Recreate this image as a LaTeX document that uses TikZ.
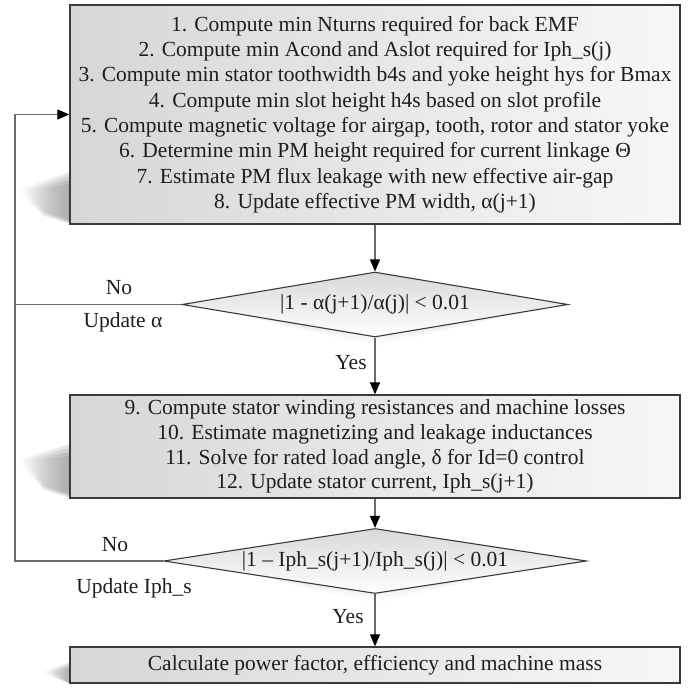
\documentclass[tikz,border=0pt]{standalone}
\usepackage{fontspec}
\setmainfont{Liberation Serif}
\usetikzlibrary{shapes.geometric,arrows.meta,fadings}

\definecolor{linegray}{HTML}{6A6A6A}
\definecolor{framegray}{HTML}{3A3A3A}
\definecolor{inkcol}{HTML}{1E1E1E}

\tikzset{
  stepbox/.style={draw=framegray, line width=1.3pt, left color=gray!32, right color=gray!6,
    minimum width=610pt, inner sep=0pt, align=center, text=inkcol},
  testbox/.style={shape=diamond, draw=framegray, line width=1.1pt, top color=gray!30, bottom color=white,
    minimum width=386pt, minimum height=65pt, aspect=8, inner sep=0pt, text=inkcol},
  flow/.style={draw=linegray, line width=1.1pt, -{Triangle[length=12pt,width=10pt,color=black]}},
  loop/.style={draw=linegray, line width=1.1pt},
  lbl/.style={inner sep=0pt, text=inkcol},
  boxshadow/.style={fill=gray, fill opacity=0.24, path fading=west},
  tipshadow/.style={fill=gray, fill opacity=0.16, path fading=south}
}

\begin{document}
\begin{tikzpicture}[x=1pt, y=-1pt, font=\fontsize{21.5}{25.3}\selectfont]
\useasboundingbox (0,0) rectangle (697,688);

% soft shadows: layered translucent wedges left of the boxes
\foreach \d in {0,4,8,12}{
  \fill[boxshadow] (71,172+\d) -- (16+\d,190) -- (44,216-\d/3) -- (71,224-\d/3) -- cycle;
  \fill[boxshadow] (71,444+\d) -- (16+\d,460) -- (44,490-\d/3) -- (71,498-\d/3) -- cycle;
  \fill[boxshadow] (71,662+\d/2) -- (40+\d,672) -- (71,684) -- cycle;
}
% soft shadows under the decisions
\foreach \d in {0,4,8}{
  \fill[tipshadow] (205+\d,306) -- (375,347-\d) -- (545-\d,306) -- (375,322) -- cycle;
  \fill[tipshadow] (205+\d,563) -- (375,604-\d) -- (545-\d,563) -- (375,579) -- cycle;
}

% process steps
\node[stepbox, minimum height=219pt] (design) at (375,114.5)
  {1. Compute min Nturns required for back EMF\\
   2. Compute min Acond and Aslot required for Iph\_s(j)\\
   3. Compute min stator toothwidth b4s and yoke height hys for Bmax\\
   4. Compute min slot height h4s based on slot profile\\
   5. Compute magnetic voltage for airgap, tooth, rotor and stator yoke\\
   6. Determine min PM height required for current linkage Θ\\
   7. Estimate PM flux leakage with new effective air-gap\\
   8. Update effective PM width, α(j+1)};

\node[testbox] (alphatest) at (375,304.5) {|1 - α(j+1)/α(j)| < 0.01};

\node[stepbox, minimum height=103pt, font=\fontsize{21.5}{24.7}\selectfont] (losses) at (375,446.5)
  {9. Compute stator winding resistances and machine losses\\
   10. Estimate magnetizing and leakage inductances\\
   11. Solve for rated load angle, δ for Id=0 control\\
   12. Update stator current, Iph\_s(j+1)};

\node[testbox] (currtest) at (375,561) {|1 – Iph\_s(j+1)/Iph\_s(j)| < 0.01};

\node[stepbox, minimum height=36pt] (final) at (375,665)
  {Calculate power factor, efficiency and machine mass};

% main flow
\draw[flow] (design.south -| alphatest.north) -- (alphatest.north);
\draw[flow] (alphatest.south) -- (losses.north -| alphatest.south);
\draw[flow] (losses.south -| currtest.north) -- (currtest.north);
\draw[flow] (currtest.south) -- (final.north -| currtest.south);

% feedback loops
\coordinate (loopa) at (15,304.5);
\coordinate (loopb) at (15,561);
\draw[loop] (alphatest.west) -- (loopa);
\draw[loop] (currtest.west) -- (loopb) -- (loopa);
\draw[flow] (loopa) |- (design.west);

% branch labels
\node[lbl] (noa) at (119,288) {No};
\node[lbl] (upa) at (123,322) {Update α};
\node[lbl] (yesa) at (351,363) {Yes};
\node[lbl] (nob) at (115,545) {No};
\node[lbl] (upb) at (134,588) {Update Iph\_s};
\node[lbl] (yesb) at (348,617) {Yes};
\end{tikzpicture}
\end{document}
